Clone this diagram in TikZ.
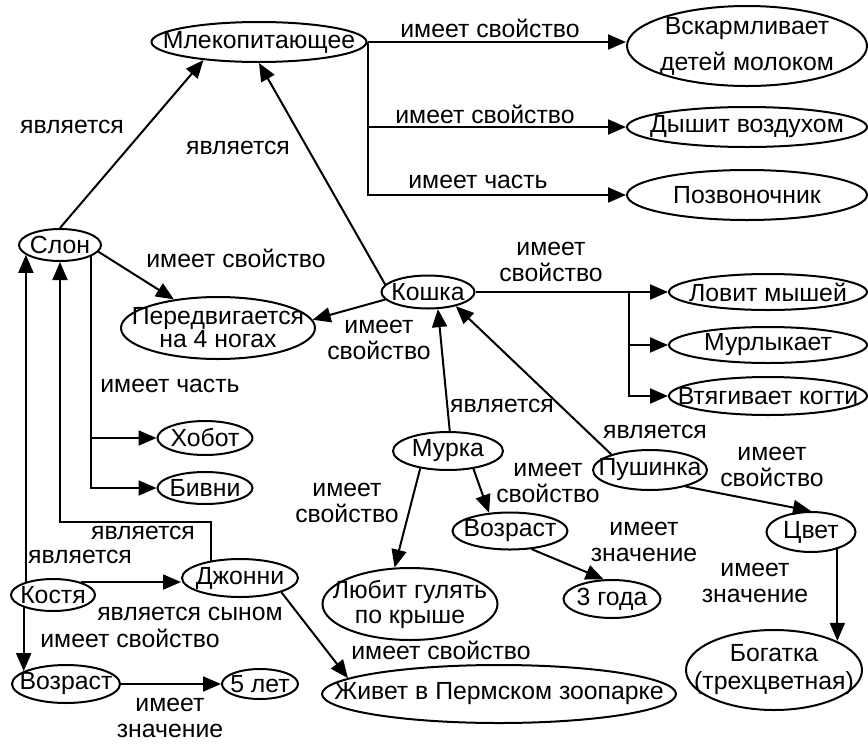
\documentclass[tikz,border=0pt]{standalone}
\usepackage{fontspec}
\setmainfont{Liberation Sans}
\usetikzlibrary{shapes.geometric,arrows.meta}
\newcommand\labfont{\fontsize{24.8}{26}\selectfont}
\begin{document}
\begin{tikzpicture}[x=1pt,y=-1pt,
  el/.style={ellipse, draw, line width=2pt, inner xsep=-70pt, inner ysep=-25pt, align=center, font=\labfont},
  lbl/.style={inner sep=0pt, align=center, font=\labfont},
  arr/.style={line width=2pt, -{Triangle[length=18pt,width=15pt]}},
  ln/.style={line width=2pt}]
\path[use as bounding box, fill=white] (0,0) rectangle (868,745);

% nodes
\node[el, minimum width=215pt, minimum height=40pt] (m) at (259,42) {Млекопитающее};
\node[el, minimum width=240pt, minimum height=80pt] (v) at (747,46) {Вскармливает\\[10pt]детей молоком};
\node[el, minimum width=240pt, minimum height=40pt] (d) at (747,127) {Дышит воздухом};
\node[el, minimum width=240pt, minimum height=50pt] (p) at (747,195) {Позвоночник};
\node[el, minimum width=82pt, minimum height=32pt] (slon) at (60,245) {Слон};
\node[el, minimum width=194pt, minimum height=62pt] (per) at (218,328) {Передвигается\\[-3pt]на 4 ногах};
\node[el, minimum width=93pt, minimum height=33pt] (k) at (428,292) {Кошка};
\node[el, minimum width=198pt, minimum height=36pt] (l) at (768,292) {Ловит мышей};
\node[el, minimum width=198pt, minimum height=36pt] (mu) at (768,345) {Мурлыкает};
\node[el, minimum width=198pt, minimum height=38pt] (vt) at (768,396) {Втягивает когти};
\node[el, minimum width=95pt, minimum height=34pt] (hob) at (205,438) {Хобот};
\node[el, minimum width=95pt, minimum height=32pt] (biv) at (205,488) {Бивни};
\node[el, minimum width=84pt, minimum height=32pt] (ko) at (53,595) {Костя};
\node[el, minimum width=116pt, minimum height=38pt] (dj) at (240,578) {Джонни};
\node[el, minimum width=108pt, minimum height=38pt] (vl) at (66,684) {Возраст};
\node[el, minimum width=76pt, minimum height=30pt] (l5) at (260,684) {5 лет};
\node[el, minimum width=354pt, minimum height=58pt] (zv) at (499,694) {Живет в Пермском зоопарке};
\node[el, minimum width=110pt, minimum height=38pt] (mur) at (448,451) {Мурка};
\node[el, minimum width=114pt, minimum height=40pt] (pu) at (650,470) {Пушинка};
\node[el, minimum width=115pt, minimum height=37pt] (vm) at (510,531) {Возраст};
\node[el, minimum width=97pt, minimum height=38pt] (g3) at (612,599) {3 года};
\node[el, minimum width=175pt, minimum height=72pt] (lb) at (410,604) {Любит гулять\\[-1pt]по крыше};
\node[el, minimum width=89pt, minimum height=40pt] (cv) at (811,532) {Цвет};
\node[el, minimum width=176pt, minimum height=80pt] (bg) at (774,670) {Богатка\\[2pt](трехцветная)};

% Mammal properties
\draw[arr] (m.east) -- (m.east -| v.west);
\draw[arr] (m.east) |- (d.west);
\draw[arr] (m.east) |- (p.west);
% is-a to mammal
\draw[arr] (slon.north) -- (m.198);
\draw[arr] (k.170) -- (m.south);
% Elephant
\draw[arr] (slon.350) -- (per.147);
\draw[arr] (slon.340) |- (hob.west);
\draw[arr] (slon.340) |- (biv.west);
% Cat
\draw[arr] (k.190) -- (per.5);
\draw[arr] (k.east) -- (l.west);
\coordinate (kt) at (629,292);
\draw[arr] (kt) |- (mu.west);
\draw[arr] (kt) |- (vt.west);
% Murka
\draw[arr] (mur.85) -- (k.300);
\draw[arr] (mur.212) -- (lb.113);
\draw[arr] (mur.325) -- (vm.139);
\draw[arr] (vm.320) -- (g3.113);
% Pushinka
\draw[arr] (pu.158) -- (k.333);
\draw[arr] (pu.335) -- (cv.north);
\draw[arr] (cv.327) -- (cv.327 |- bg.25);
% Kostya / Johnny
\draw[arr] (ko.154) -- (ko.154 |- slon.196);
\coordinate (c1) at (slon.south |- 0,522);
\draw[arr] (dj.149) |- (c1) -- (slon.south);
\draw[arr] (ko.25) -- (ko.25 -| dj.west);
\draw[arr] (ko.203) -- (ko.203 |- vl.163);
\draw[arr] (vl.east) -- (l5.west);
\draw[arr] (dj.341) -- (zv.174);

% labels
\node[lbl] (t1) at (490,28) {имеет свойство};
\node[lbl] (t2) at (485,114) {имеет свойство};
\node[lbl] (t3) at (478,182) {имеет часть};
\node[lbl] (t4) at (72,127) {является};
\node[lbl] (t5) at (238,148) {является};
\node[lbl] (t6) at (236,258) {имеет свойство};
\node[lbl] (t7) at (551,262) {имеет\\свойство};
\node[lbl] (t8) at (379,340) {имеет\\свойство};
\node[lbl] (t9) at (170,386) {имеет часть};
\node[lbl] (t10) at (502,406) {является};
\node[lbl] (t11) at (655,432) {является};
\node[lbl] (t12) at (772,467) {имеет\\свойство};
\node[lbl] (t13) at (347,503) {имеет\\свойство};
\node[lbl] (t14) at (548,483) {имеет\\свойство};
\node[lbl] (t15) at (143,533) {является};
\node[lbl] (t16) at (80,557) {является};
\node[lbl] (t17) at (644,542) {имеет\\значение};
\node[lbl] (t18) at (755,583) {имеет\\значение};
\node[lbl] (t19) at (190,614) {является сыном};
\node[lbl] (t20) at (130,638) {имеет свойство};
\node[lbl] (t21) at (441,650) {имеет свойство};
\node[lbl] (t22) at (170,718) {имеет\\значение};
\end{tikzpicture}
\end{document}
